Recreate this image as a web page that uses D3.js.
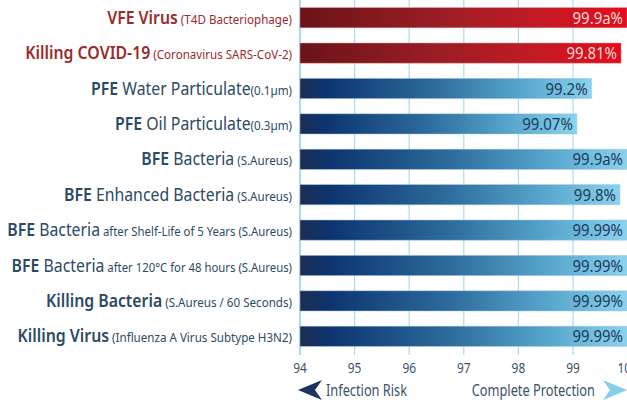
<!DOCTYPE html>
<html>
<head>
<meta charset="utf-8">
<script src="https://cdn.jsdelivr.net/npm/d3@7"></script>
<style>
  html, body { margin: 0; padding: 0; background: #fff; }
  svg { display: block; font-family: "Noto Sans", "Open Sans", sans-serif; }
</style>
</head>
<body>
<svg id="chart" width="627" height="400"></svg>
<script>
// label pieces: bold lead, normal body, small note
const labelLead = ["VFE Virus", "Killing COVID-19", "PFE", "PFE", "BFE", "BFE", "BFE", "BFE", "Killing Bacteria", "Killing Virus"];
const labelBody = ["", "", " Water Particulate", " Oil Particulate", " Bacteria", " Enhanced Bacteria", " Bacteria", " Bacteria", "", ""];
const labelNote = [
  " (T4D Bacteriophage)", " (Coronavirus SARS-CoV-2)", "(0.1\u00b5m)", "(0.3\u00b5m)", " (S.Aureus)",
  "  (S.Aureus)", " after Shelf-Life of 5 Years (S.Aureus)", " after 120\u00b0C for 48 hours (S.Aureus)",
  " (S.Aureus / 60 Seconds)", " (Influenza A Virus Subtype H3N2)"
];
const tone = ["red", "red", "blue", "blue", "blue", "blue", "blue", "blue", "blue", "blue"];
// bar extents as drawn, and the printed value labels
const barValues = [99.99, 99.88, 99.34, 99.07, 99.99, 99.86, 99.99, 99.99, 99.99, 99.99];
const valueLabels = ["99.9a%", "99.81%", "99.2%", "99.07%", "99.9a%", "99.8%", "99.99%", "99.99%", "99.99%", "99.99%"];
const ticks = [94, 95, 96, 97, 98, 99, 100];

const rows = d3.range(labelLead.length);
const svg = d3.select("#chart");

const x = d3.scaleLinear().domain([94, 100]).range([300, 627.6]);
const y = d3.scaleBand().domain(rows).range([0, 354]).paddingInner(0.43).paddingOuter(0.215);

const TEXT_BLUE = "#2b4a64";
const TEXT_RED = "#9b2a2a";

// gradients
const defs = svg.append("defs");
const gradStops = {
  red: [[0, "#6a1419"], [0.45, "#9e1d25"], [0.75, "#c51a24"], [1, "#e60b1c"]],
  blue: [[0, "#1c2d52"], [0.09, "#0d3470"], [0.45, "#2c6a9b"], [0.75, "#55a4cb"], [1, "#8ad3ee"]]
};
Object.keys(gradStops).forEach(k => {
  defs.append("linearGradient")
    .attr("id", `grad_${k}`)
    .attr("x1", 0).attr("x2", 1).attr("y1", 0).attr("y2", 0)
    .selectAll("stop")
    .data(gradStops[k])
    .enter().append("stop")
    .attr("offset", d => d[0])
    .attr("stop-color", d => d[1]);
});

// grid lines
svg.append("g")
  .selectAll("line")
  .data(ticks)
  .enter().append("line")
  .attr("x1", d => x(d)).attr("x2", d => x(d))
  .attr("y1", 0).attr("y2", 355)
  .attr("stroke", "#a9dbf0")
  .attr("stroke-width", d => d === 94 ? 2 : 1.2);

// tick labels (the last one is cut by the edge, as in the original)
svg.append("g")
  .selectAll("text")
  .data(ticks)
  .enter().append("text")
  .attr("transform", d => `translate(${x(d)},373) scale(0.85,1)`)
  .attr("text-anchor", "middle")
  .attr("fill", "#3b5169")
  .style("font-size", "14px")
  .text(d => d);

// bars
svg.append("g")
  .selectAll("rect")
  .data(rows)
  .enter().append("rect")
  .attr("x", x(94))
  .attr("y", i => y(i))
  .attr("width", i => x(barValues[i]) - x(94))
  .attr("height", y.bandwidth())
  .attr("fill", i => `url(#grad_${tone[i]})`)
  .attr("stroke", i => tone[i] === "red" ? "#d59a9a" : "#9cc4dc")
  .attr("stroke-opacity", 0.6)
  .attr("stroke-width", 0.8);

// value labels
svg.append("g")
  .selectAll("text")
  .data(rows)
  .enter().append("text")
  .attr("transform", i => `translate(${x(barValues[i]) - 4},${y(i) + y.bandwidth() / 2 + 6}) scale(0.88,1)`)
  .attr("text-anchor", "end")
  .attr("fill", i => tone[i] === "red" ? "#f6ddd2" : "#1d3a58")
  .style("font-size", "17px")
  .text(i => valueLabels[i]);

// category labels
const labels = svg.append("g")
  .selectAll("text")
  .data(rows)
  .enter().append("text")
  .attr("transform", i => `translate(292,${y(i) + y.bandwidth() / 2 + 6}) scale(0.86,1)`)
  .attr("text-anchor", "end")
  .attr("fill", i => tone[i] === "red" ? TEXT_RED : TEXT_BLUE);

labels.append("tspan")
  .style("font-size", "18.4px")
  .style("font-weight", 600)
  .text(i => labelLead[i]);
labels.append("tspan")
  .style("font-size", "18.4px")
  .style("font-weight", 400)
  .text(i => labelBody[i]);
labels.append("tspan")
  .style("font-size", i => labelNote[i].startsWith(" after") ? "13.2px" : "13.5px")
  .style("font-weight", 400)
  .text(i => labelNote[i]);

// bottom legend arrows
const arrow = (x0, dir, fill) => {
  const w = 24, h = 20, notch = 7;
  const pts = dir < 0
    ? [[x0, 0], [x0 + w, -h / 2], [x0 + w - notch, 0], [x0 + w, h / 2]]
    : [[x0 + w, 0], [x0, -h / 2], [x0 + notch, 0], [x0, h / 2]];
  svg.append("path")
    .attr("transform", "translate(0,390)")
    .attr("d", d3.line()(pts) + "Z")
    .attr("fill", fill);
};
arrow(298, -1, "#1b3460");
arrow(603, 1, "#86cfea");

svg.append("text")
  .attr("transform", "translate(326,396) scale(0.8,1)")
  .attr("fill", "#3b5169")
  .style("font-size", "16px")
  .text("Infection Risk");
svg.append("text")
  .attr("transform", "translate(595,396) scale(0.8,1)")
  .attr("text-anchor", "end")
  .attr("fill", "#3b5169")
  .style("font-size", "16px")
  .text("Complete Protection");
</script>
</body>
</html>
